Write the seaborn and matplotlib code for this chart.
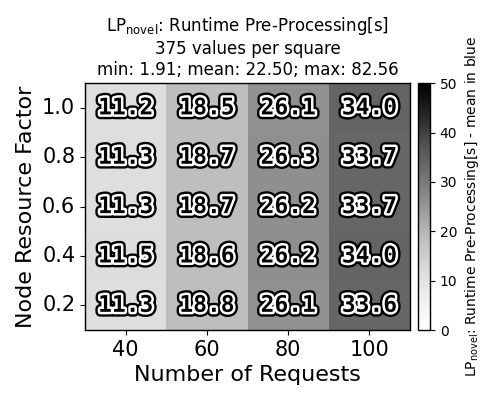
import numpy as np
import pandas as pd
import seaborn as sns
import matplotlib
matplotlib.use("Agg")
import matplotlib.pyplot as plt
import matplotlib.patheffects as pe

requests = [40, 60, 80, 100]
factors = ["1.0", "0.8", "0.6", "0.4", "0.2"]
row_10 = [11.2, 18.5, 26.1, 34.0]
row_08 = [11.3, 18.7, 26.3, 33.7]
row_06 = [11.3, 18.7, 26.2, 33.7]
row_04 = [11.5, 18.6, 26.2, 34.0]
row_02 = [11.3, 18.8, 26.1, 33.6]

df = pd.DataFrame([row_10, row_08, row_06, row_04, row_02], index=factors, columns=requests)

fig = plt.figure(figsize=(5, 4), dpi=100)
ax = fig.add_axes([0.17, 0.175, 0.65, 0.617])
cax = fig.add_axes([0.836, 0.175, 0.024, 0.617])

sns.heatmap(df, ax=ax, cbar_ax=cax, cmap="Greys", vmin=0, vmax=50,
            annot=True, fmt=".1f",
            annot_kws=dict(fontsize=16.5, fontfamily="DejaVu Sans Mono", fontweight="bold"))
for t in ax.texts:
    t.set_color("black")
    t.set_path_effects([pe.Stroke(linewidth=7, foreground="black"),
                        pe.Stroke(linewidth=3.6, foreground="white"),
                        pe.Normal()])

for s in ax.spines.values():
    s.set_visible(True)
    s.set_color("black")
    s.set_linewidth(1)

ax.set_xlabel("Number of Requests", fontsize=16)
ax.set_ylabel("Node Resource Factor", fontsize=16)
ax.tick_params(axis="both", labelsize=15)
ax.set_yticklabels(factors, rotation=0)
ax.set_xticklabels([str(r) for r in requests], rotation=0)
ax.set_title(r"LP$_{\mathrm{novel}}$: Runtime Pre-Processing[s]" + "\n375 values per square\nmin: 1.91; mean: 22.50; max: 82.56",
             fontsize=12)

cb = ax.collections[0].colorbar
cb.outline.set_visible(True)
cb.outline.set_edgecolor("black")
cb.outline.set_linewidth(1)
cax.tick_params(labelsize=10)
cb.set_ticks([0, 10, 20, 30, 40, 50])
cb.set_label(r"LP$_{\mathrm{novel}}$: Runtime Pre-Processing[s] - mean in blue", fontsize=10)

fig.savefig("out.png", dpi=100)
